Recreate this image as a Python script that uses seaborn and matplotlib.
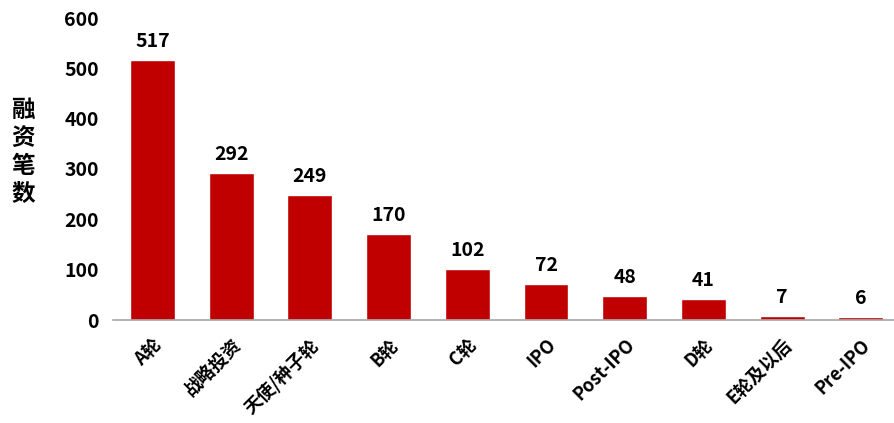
import matplotlib.pyplot as plt
import pandas as pd
import seaborn as sns

ROUNDS = ["A轮", "战略投资", "天使/种子轮", "B轮", "C轮", "IPO", "Post-IPO",
          "D轮", "E轮及以后", "Pre-IPO"]
COUNTS = [517, 292, 249, 170, 102, 72, 48, 41, 7, 6]
Y_TICKS = [0, 100, 200, 300, 400, 500, 600]

sns.set_theme(style="white")
plt.rcParams["font.family"] = ["Noto Sans CJK SC", "DejaVu Sans"]
plt.rcParams["font.weight"] = "bold"
plt.rcParams["text.color"] = "black"
plt.rcParams["xtick.color"] = "black"
plt.rcParams["ytick.color"] = "black"

df = pd.DataFrame({"round": ROUNDS, "count": COUNTS})

fig = plt.figure(figsize=(8.94, 4.23), dpi=100)
ax = fig.add_axes([113 / 894, 103 / 423, 781 / 894, 302 / 423])

sns.barplot(data=df, x="round", y="count", color="#C00000", saturation=1,
            width=0.57, ax=ax)

for i, v in enumerate(COUNTS):
    ax.text(i, v + 18, str(v), ha="center", va="bottom", fontsize=14,
            fontweight="bold", color="black")

ax.set_ylim(0, 600)
ax.set_xlim(-0.5, 9.42)
ax.set_yticks(Y_TICKS)
ax.set_yticklabels([str(t) for t in Y_TICKS], fontsize=14, fontweight="bold")
ax.tick_params(axis="y", length=0, pad=10)
ax.tick_params(axis="x", length=0, pad=11)
ax.set_xticks(range(len(ROUNDS)))
ax.set_xticklabels(ROUNDS, rotation=45, ha="right", rotation_mode="anchor",
                   fontsize=13, fontweight="bold")
ax.set_xlabel("")
ax.set_ylabel("")

for side in ["top", "right", "left"]:
    ax.spines[side].set_visible(False)
ax.spines["bottom"].set_color("#A6A6A6")
ax.spines["bottom"].set_linewidth(1.2)

fig.text(23 / 894, 1 - 152 / 423, "融\n资\n笔\n数", ha="center", va="center",
         fontsize=17, fontweight="bold", linespacing=1.2)

fig.savefig("out.png", dpi=100)
